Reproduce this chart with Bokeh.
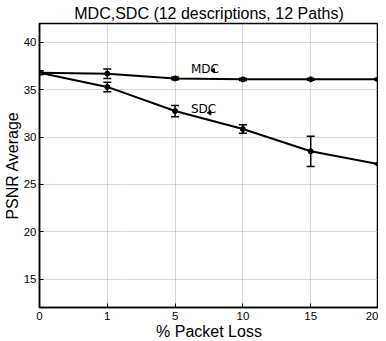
from bokeh.plotting import figure
from bokeh.models import (ColumnDataSource, Whisker, TeeHead, FixedTicker,
                          Range1d, Label, Arrow, NormalHead)
from bokeh.embed import file_html
from bokeh.resources import INLINE

# ---- data ----
loss_labels = ["0", "1", "5", "10", "15", "20"]
mdc_psnr = [36.8, 36.7, 36.2, 36.1, 36.1, 36.1]
mdc_err = [0.2, 0.5, 0.15, 0.12, 0.1, 0.12]
sdc_psnr = [36.8, 35.3, 32.75, 30.85, 28.5, 27.15]
sdc_err = [0.2, 0.5, 0.6, 0.45, 1.6, 0.05]
y_ticks = [15, 20, 25, 30, 35, 40]

xs = list(range(len(loss_labels)))

def src(vals, errs):
    return ColumnDataSource(dict(
        x=xs, y=vals,
        lo=[v - e for v, e in zip(vals, errs)],
        hi=[v + e for v, e in zip(vals, errs)],
    ))

mdc = src(mdc_psnr, mdc_err)
sdc = src(sdc_psnr, sdc_err)

FONT = "Liberation Sans"

p = figure(width=378, height=342, x_range=Range1d(0, 5), y_range=Range1d(12, 42),
           output_backend="svg", toolbar_location=None,
           min_border_left=36, min_border_right=0, min_border_top=23, min_border_bottom=20)
p.background_fill_color = "white"
p.border_fill_color = "white"
p.outline_line_color = "black"
p.outline_line_width = 1.5

p.title.text = "MDC,SDC (12 descriptions, 12 Paths)"
p.title.text_font = FONT
p.title.text_font_size = "16px"
p.title.text_font_style = "normal"
p.title.align = "center"
p.title.text_color = "black"
p.title.standoff = 3

xt = FixedTicker(ticks=xs)
yt = FixedTicker(ticks=y_ticks)

p.xaxis.ticker = xt
p.xaxis.major_label_overrides = {i: l for i, l in zip(xs, loss_labels)}
p.yaxis.ticker = yt
p.xaxis.axis_label = "% Packet Loss"
p.yaxis.axis_label = "PSNR Average"
for ax in (p.xaxis, p.yaxis):
    ax.axis_label_text_font = FONT
    ax.axis_label_text_font_size = "16px"
    ax.axis_label_text_font_style = "normal"
    ax.axis_label_text_color = "black"
    ax.major_label_text_font = FONT
    ax.major_label_text_font_size = "11.5px"
    ax.major_label_text_color = "black"
    ax.major_tick_in = 4
    ax.major_tick_out = 0
    ax.minor_tick_line_color = None
    ax.axis_line_color = "black"
    ax.axis_line_width = 1.5
    ax.major_tick_line_color = "black"
p.xaxis.major_label_standoff = 4
p.xaxis.axis_label_standoff = 0
p.yaxis.major_label_standoff = 3
p.yaxis.axis_label_standoff = 0

p.xgrid.ticker = xt
p.ygrid.ticker = yt
for g in (p.xgrid, p.ygrid):
    g.grid_line_color = "#b0b0b0"
    g.grid_line_dash = "1 1"
    g.grid_line_width = 1

for s in (mdc, sdc):
    p.line("x", "y", source=s, line_color="black", line_width=2)
    p.scatter("x", "y", source=s, size=5, color="black")
    p.add_layout(Whisker(base="x", lower="lo", upper="hi", source=s,
                         line_color="black", line_width=1.5,
                         upper_head=TeeHead(size=8, line_color="black", line_width=1.5),
                         lower_head=TeeHead(size=8, line_color="black", line_width=1.5)))

ann_font = "DejaVu Sans"
p.add_layout(Label(x=2.234, y=37.2, text="MDC", text_font=ann_font,
                   text_font_size="12px", text_color="black", text_baseline="alphabetic"))
p.add_layout(Label(x=2.234, y=32.95, text="SDC", text_font=ann_font,
                   text_font_size="12px", text_color="black", text_baseline="alphabetic"))
p.add_layout(Arrow(x_start=2.555, y_start=37.12, x_end=2.585, y_end=36.8,
                   line_color="black", line_width=1,
                   end=NormalHead(size=4, fill_color="black", line_color="black")))
p.add_layout(Arrow(x_start=2.50, y_start=32.65, x_end=2.53, y_end=32.33,
                   line_color="black", line_width=1,
                   end=NormalHead(size=4, fill_color="black", line_color="black")))

open("out.html", "w").write(file_html(p, INLINE))
